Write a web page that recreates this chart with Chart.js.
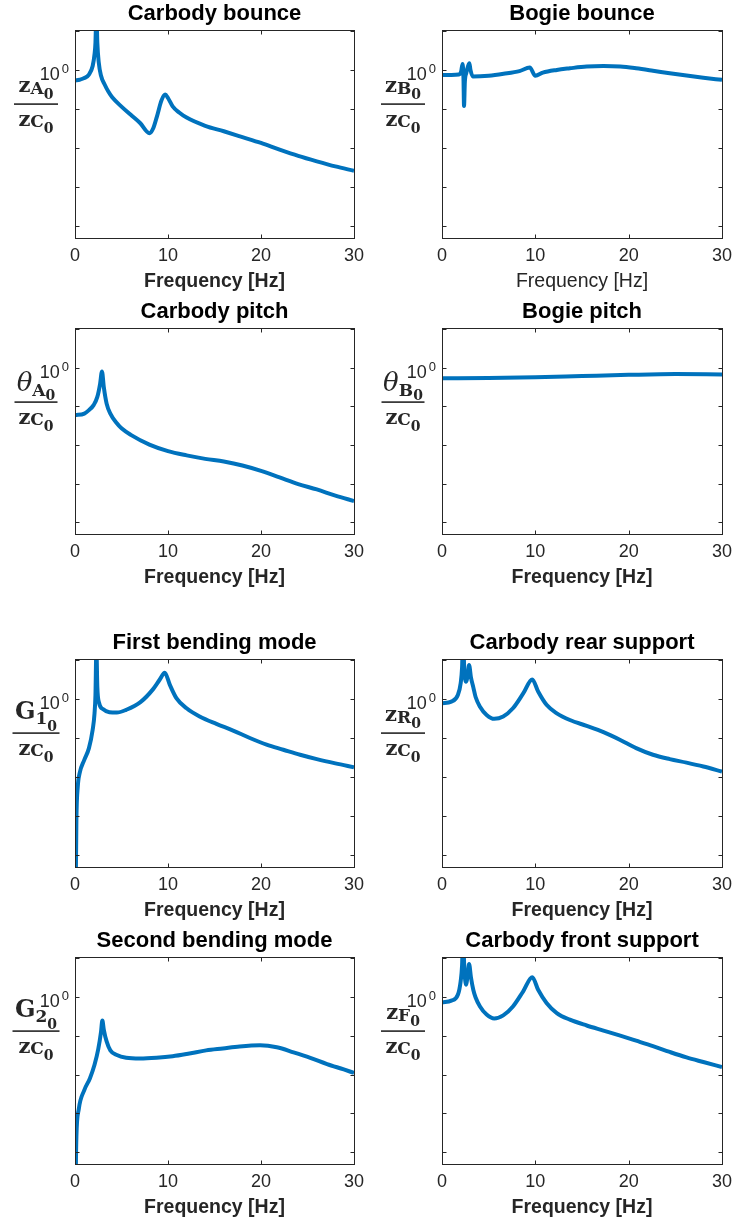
<!DOCTYPE html>
<html>
<head>
<meta charset="utf-8">
<script src="https://cdn.jsdelivr.net/npm/chart.js@4.4.1/dist/chart.umd.min.js"></script>
<style>
  body { margin: 0; background: #fff; width: 732px; height: 1223px; overflow: hidden; position: relative; }
  canvas { position: absolute; }
</style>
</head>
<body>
<script>
// frequency grids [Hz] and magnitude ratios
const freqCarbodyBounce = [0, 0.5, 1, 1.5, 1.9, 2.1, 2.2, 2.3, 2.4, 2.55, 2.8, 3.2, 3.6, 4, 5, 6, 7, 8, 8.4, 8.8, 9.3, 9.7, 10, 10.5, 11.2, 12, 14, 16, 18, 20, 22, 24, 26, 28, 30];
const carbodyBounce = [0.537, 0.562, 0.617, 0.759, 1.26, 2.51, 5.01, 31.6, 5.01, 1.58, 0.708, 0.417, 0.275, 0.2, 0.115, 0.0708, 0.0437, 0.024, 0.0316, 0.0631, 0.166, 0.234, 0.191, 0.117, 0.0813, 0.0603, 0.0372, 0.0269, 0.0191, 0.0135, 0.00912, 0.00631, 0.00457, 0.00339, 0.00263];

const freqBogieBounce = [0, 1, 1.8, 2.05, 2.2, 2.3, 2.36, 2.45, 2.6, 2.8, 2.93, 3.05, 3.3, 5, 6.6, 8.3, 9.4, 10, 10.8, 12.3, 13.7, 15.5, 17.3, 19.1, 20.8, 22.6, 24.4, 26.2, 28, 30];
const bogieBounce = [0.741, 0.741, 0.759, 0.912, 1.41, 0.631, 0.12, 0.501, 0.832, 1.26, 1.48, 1.0, 0.676, 0.708, 0.794, 0.933, 1.15, 0.708, 0.851, 1.0, 1.1, 1.22, 1.26, 1.22, 1.1, 0.955, 0.822, 0.716, 0.631, 0.556];

const freqCarbodyPitch = [0, 1, 1.5, 2, 2.4, 2.7, 2.9, 3.1, 3.4, 3.8, 4.5, 5, 6, 8, 10, 12, 14, 16, 18, 20, 22, 24, 26, 28, 30];
const carbodyPitch = [0.0589, 0.0646, 0.0794, 0.107, 0.174, 0.38, 0.794, 0.309, 0.117, 0.0646, 0.0363, 0.0269, 0.0182, 0.0102, 0.00692, 0.00537, 0.00437, 0.00372, 0.00295, 0.00214, 0.00145, 0.000977, 0.000708, 0.00049, 0.000355];

const freqBogiePitch = [0, 5, 10, 15, 20, 25, 30];
const bogiePitch = [0.525, 0.537, 0.562, 0.603, 0.646, 0.676, 0.661];

const freqFirstBending = [0.05, 0.1, 0.15, 0.3, 0.5, 1, 1.5, 1.9, 2.1, 2.2, 2.3, 2.4, 2.6, 3, 3.7, 4.5, 5.5, 7, 8.4, 9.1, 9.65, 10.2, 10.9, 12, 13.4, 15.2, 17, 18.8, 20.6, 22.4, 24.2, 26, 28, 30];
const firstBending = [1e-6, 5.01e-5, 0.000794, 0.00575, 0.0126, 0.0275, 0.055, 0.162, 0.427, 1.26, 20, 2.04, 0.776, 0.55, 0.457, 0.447, 0.525, 0.813, 1.78, 3.09, 4.68, 2.29, 1.05, 0.575, 0.355, 0.229, 0.155, 0.1, 0.0676, 0.0501, 0.0372, 0.0288, 0.0224, 0.0178];

const freqSecondBending = [0.05, 0.1, 0.15, 0.4, 1.0, 1.6, 2.1, 2.5, 2.8, 2.94, 3.1, 3.4, 3.8, 4.5, 5.5, 7, 8.76, 10.5, 12.3, 14.1, 15.9, 17.7, 19.9, 21.7, 23.5, 25.3, 27.1, 28.9, 30];
const secondBending = [1e-6, 5.01e-5, 0.000251, 0.00126, 0.00398, 0.00794, 0.0178, 0.0447, 0.126, 0.245, 0.141, 0.0708, 0.0417, 0.0316, 0.0269, 0.0257, 0.0269, 0.0295, 0.0347, 0.0417, 0.0468, 0.0525, 0.0562, 0.0501, 0.0372, 0.0269, 0.0186, 0.0135, 0.011];

const freqSupport = [0, 1, 1.7, 2.0, 2.15, 2.25, 2.4, 2.57, 2.75, 2.9, 3.1, 3.35, 3.6, 4.07, 4.78, 5.6, 6.56, 7.6, 8.7, 9.67, 10.3, 11.2, 12.3, 13.7, 15.5, 17.3, 19.1, 20.8, 22.6, 24.4, 26.2, 28, 30];
const rearSupport = [0.776, 0.851, 1.26, 2.51, 6.31, 31.6, 5.01, 2.75, 3.98, 7.41, 3.55, 2.0, 1.12, 0.631, 0.389, 0.309, 0.355, 0.575, 1.38, 3.16, 1.55, 0.708, 0.427, 0.288, 0.204, 0.141, 0.0891, 0.055, 0.0372, 0.0288, 0.0234, 0.0186, 0.0138];
const frontSupport = [0.708, 0.794, 1.12, 2.51, 6.31, 31.6, 5.01, 2.04, 3.55, 6.92, 3.16, 1.51, 0.955, 0.562, 0.347, 0.275, 0.331, 0.562, 1.38, 3.16, 1.51, 0.692, 0.38, 0.257, 0.182, 0.135, 0.1, 0.0741, 0.0537, 0.038, 0.0275, 0.0209, 0.0155];

const xTicks = [0, 10, 20, 30];
const yDecades = [1e-4, 1e-3, 1e-2, 1e-1, 1, 10];
const yMin = 5e-5, yMax = 10.5;

const panels = [
  { title: 'Carbody bounce', num: ['z', 'A'], freq: freqCarbodyBounce, mag: carbodyBounce, col: 0, row: 0 },
  { title: 'Bogie bounce', num: ['z', 'B'], freq: freqBogieBounce, mag: bogieBounce, col: 1, row: 0, thinLabel: true },
  { title: 'Carbody pitch', num: ['θ', 'A'], freq: freqCarbodyPitch, mag: carbodyPitch, col: 0, row: 1 },
  { title: 'Bogie pitch', num: ['θ', 'B'], freq: freqBogiePitch, mag: bogiePitch, col: 1, row: 1 },
  { title: 'First bending mode', num: ['G', '1'], freq: freqFirstBending, mag: firstBending, col: 0, row: 2 },
  { title: 'Carbody rear support', num: ['z', 'R'], freq: freqSupport, mag: rearSupport, col: 1, row: 2 },
  { title: 'Second bending mode', num: ['G', '2'], freq: freqSecondBending, mag: secondBending, col: 0, row: 3 },
  { title: 'Carbody front support', num: ['z', 'F'], freq: freqSupport, mag: frontSupport, col: 1, row: 3 }
];

// layout
const rowTop = [0, 298, 629, 927];
const boxH = [208, 206, 208, 207];
const colLeft = [0, 366];
const padLeft = [75, 76];
const padRight = [12, 10];

const SANS = '"Liberation Sans", Arial, Helvetica, sans-serif';
const SERIF = '"DejaVu Serif", serif';
const INK = '#262626';

const numStyle = {
  'z': { font: 'bold 21px ' + SERIF, base: 62, sub: 64, sub0: 69, w: 44 },
  'θ': { font: 'italic 26px ' + SERIF, base: 63, sub: 68, sub0: 72, w: 43 },
  'G': { font: 'bold 24px ' + SERIF, base: 60, sub: 65, sub0: 72, w: 47 }
};
const DEN_FONT = 'bold 21px ' + SERIF;
const SUB_FONT = 'bold 17px ' + SERIF;
const SUB0_FONT = 'bold 14px ' + SERIF;

function drawPart(ctx, parts, cx) {
  let total = 0;
  parts.forEach(p => { ctx.font = p.font; p.w = ctx.measureText(p.t).width; total += p.w; });
  let x = cx - total / 2;
  parts.forEach(p => { ctx.font = p.font; ctx.fillText(p.t, x, p.y); x += p.w; });
}

function drawFraction(ctx, cx, top, num) {
  const s = numStyle[num[0]];
  ctx.fillStyle = INK;
  ctx.textAlign = 'left';
  ctx.textBaseline = 'alphabetic';
  drawPart(ctx, [
    { t: num[0], font: s.font, y: top + s.base },
    { t: num[1], font: SUB_FONT, y: top + s.sub },
    { t: '0', font: SUB0_FONT, y: top + s.sub0 }
  ], cx);
  ctx.fillRect(cx - s.w / 2, top + 73.3, s.w, 1.6);
  drawPart(ctx, [
    { t: 'z', font: DEN_FONT, y: top + 96 },
    { t: 'C', font: SUB_FONT, y: top + 97 },
    { t: '0', font: SUB0_FONT, y: top + 103 }
  ], cx);
}

const matlabAxes = {
  id: 'matlabAxes',
  afterDraw(chart, args, opts) {
    const { ctx, chartArea: a, scales: { x, y } } = chart;
    ctx.save();
    ctx.strokeStyle = INK;
    ctx.lineWidth = 1;
    const L = Math.round(a.left) + 0.5, R = Math.round(a.right) + 0.5;
    const T = Math.round(a.top) + 0.5, B = Math.round(a.bottom) + 0.5;
    ctx.strokeRect(L, T, R - L, B - T);
    ctx.beginPath();
    yDecades.forEach(v => {
      const py = Math.round(y.getPixelForValue(v)) + 0.5;
      if (py < T + 1 || py > B - 1) return;
      ctx.moveTo(L, py); ctx.lineTo(L + 4, py);
      ctx.moveTo(R, py); ctx.lineTo(R - 4, py);
    });
    xTicks.forEach(v => {
      const px = Math.round(x.getPixelForValue(v)) + 0.5;
      ctx.moveTo(px, B); ctx.lineTo(px, B - 4);
      ctx.moveTo(px, T); ctx.lineTo(px, T + 4);
    });
    ctx.stroke();

    // 10^0 tick label
    const p0 = y.getPixelForValue(1);
    ctx.fillStyle = INK;
    ctx.textAlign = 'right';
    ctx.textBaseline = 'alphabetic';
    ctx.font = '13px ' + SANS;
    const w0 = ctx.measureText('0').width;
    ctx.fillText('0', a.left - 6, p0 + 3);
    ctx.font = '18px ' + SANS;
    ctx.fillText('10', a.left - 8 - w0, p0 + 10);

    drawFraction(ctx, a.left - 39, a.top, opts.num);
    ctx.restore();
  }
};

panels.forEach(p => {
  const cv = document.createElement('canvas');
  const w = 366, h = 30 + boxH[p.row] + 62;
  cv.width = w; cv.height = h;
  cv.style.left = colLeft[p.col] + 'px';
  cv.style.top = rowTop[p.row] + 'px';
  cv.style.width = w + 'px'; cv.style.height = h + 'px';
  document.body.appendChild(cv);

  new Chart(cv, {
    type: 'line',
    data: {
      datasets: [{
        data: p.freq.map((f, i) => ({ x: f, y: p.mag[i] })),
        borderColor: '#0072BD',
        borderWidth: 4,
        pointRadius: 0,
        cubicInterpolationMode: 'monotone',
        clip: 0
      }]
    },
    options: {
      responsive: false,
      animation: false,
      devicePixelRatio: 1,
      layout: { padding: { left: padLeft[p.col], right: padRight[p.col], top: 0, bottom: 0 } },
      plugins: {
        legend: { display: false },
        tooltip: { enabled: false },
        title: {
          display: true,
          text: p.title,
          color: '#000',
          fullSize: false,
          font: { family: SANS, size: 22, weight: 'bold', lineHeight: 1.2 },
          padding: { top: 0.8, bottom: 2.8 }
        },
        matlabAxes: { num: p.num }
      },
      scales: {
        x: {
          type: 'linear',
          min: 0, max: 30,
          grid: { display: false, drawTicks: false },
          border: { display: false },
          ticks: { stepSize: 10, color: INK, padding: 7.5, font: { family: SANS, size: 18 } },
          title: {
            display: true,
            text: 'Frequency [Hz]',
            color: INK,
            font: { family: SANS, size: 19.5, weight: p.thinLabel ? 'normal' : 'bold', lineHeight: 1.2 },
            padding: { top: 0, bottom: 6.3 }
          },
          afterFit(scale) {
            scale.height = 62;
            scale.paddingLeft = 0;
            scale.paddingRight = 0;
          }
        },
        y: {
          type: 'logarithmic',
          display: false,
          min: yMin, max: yMax
        }
      }
    },
    plugins: [matlabAxes]
  });
});
</script>
</body>
</html>
